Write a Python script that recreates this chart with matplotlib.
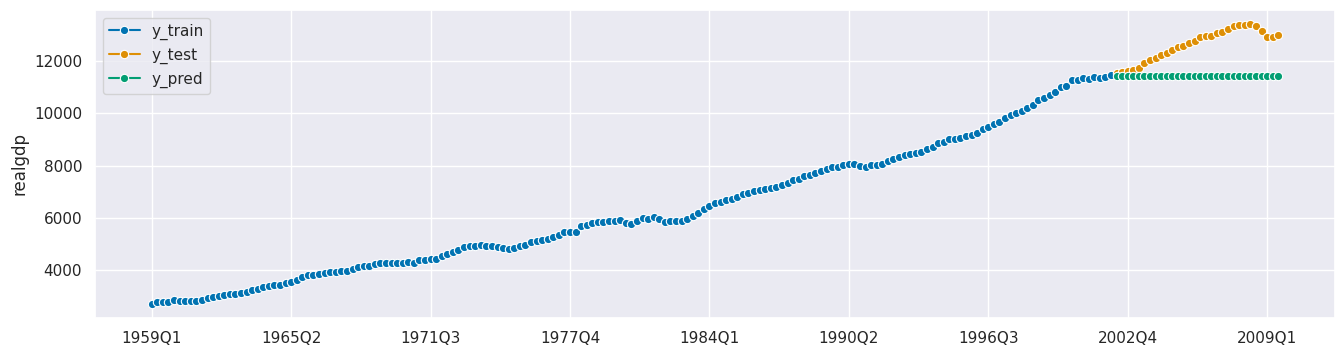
import numpy as np
import pandas as pd
import matplotlib
matplotlib.use("Agg")
import matplotlib.pyplot as plt
import seaborn as sns

# realgdp trimestral, 1959Q1 - 2009Q3
realgdp = [
    2710.349, 2778.801, 2775.488, 2785.204, 2847.699, 2834.390, 2839.022, 2802.616,
    2819.264, 2872.005, 2918.419, 2977.830, 3031.241, 3064.709, 3093.047, 3100.563,
    3141.087, 3180.447, 3240.332, 3264.967, 3338.246, 3376.587, 3422.469, 3431.957,
    3516.251, 3563.960, 3636.285, 3724.014, 3815.423, 3828.124, 3853.301, 3884.520,
    3918.740, 3919.556, 3950.826, 3980.970, 4063.013, 4131.998, 4160.267, 4178.293,
    4244.100, 4256.460, 4283.378, 4263.261, 4256.573, 4264.289, 4302.259, 4256.637,
    4374.016, 4398.829, 4433.943, 4446.264, 4525.769, 4633.101, 4677.503, 4754.546,
    4876.166, 4932.571, 4906.252, 4953.050, 4909.617, 4922.188, 4873.520, 4854.340,
    4795.295, 4831.942, 4913.328, 4977.511, 5090.695, 5128.947, 5154.072, 5191.499,
    5251.762, 5356.131, 5451.921, 5450.793, 5469.405, 5684.569, 5740.300, 5816.222,
    5825.949, 5831.418, 5873.335, 5889.495, 5908.467, 5787.373, 5776.617, 5883.026,
    6005.717, 5957.795, 6030.184, 5955.062, 5857.333, 5889.074, 5866.370, 5871.001,
    5944.020, 6077.619, 6197.468, 6325.574, 6448.264, 6559.594, 6623.343, 6677.264,
    6740.275, 6797.344, 6903.523, 6955.918, 7022.757, 7050.969, 7118.950, 7153.359,
    7193.019, 7269.510, 7332.558, 7458.022, 7496.600, 7592.881, 7632.082, 7733.991,
    7806.603, 7865.016, 7927.393, 7944.697, 8027.693, 8059.598, 8059.476, 7988.864,
    7950.164, 8003.822, 8037.538, 8069.046, 8157.616, 8244.294, 8329.361, 8417.016,
    8432.485, 8486.435, 8531.108, 8643.769, 8727.919, 8847.303, 8904.289, 9003.180,
    9025.267, 9044.668, 9120.684, 9184.275, 9247.188, 9407.052, 9488.879, 9592.458,
    9666.235, 9809.551, 9932.672, 10008.874, 10103.425, 10194.277, 10328.787, 10507.575,
    10601.179, 10684.049, 10819.914, 11014.254, 11043.044, 11258.454, 11267.867, 11334.544,
    11297.171, 11371.251, 11340.075, 11380.128, 11477.868, 11538.770, 11596.430, 11598.824,
    11645.819, 11738.706, 11935.461, 12042.817, 12127.623, 12213.818, 12303.533, 12410.282,
    12534.113, 12587.535, 12683.153, 12748.699, 12915.938, 12962.462, 12965.916, 13060.679,
    13099.901, 13203.977, 13321.109, 13391.249, 13366.865, 13415.266, 13324.600, 13141.920,
    12925.410, 12901.504, 12990.341,
]
periodos = pd.period_range("1959Q1", periods=len(realgdp), freq="Q")
n_test = 30
y_train = realgdp[:-n_test]
y_test = realgdp[-n_test:]
y_pred = [11430.0] * n_test

sns.set_theme(style="darkgrid")
colores = sns.color_palette("colorblind")

x = np.arange(len(realgdp))
x_train = x[:-n_test]
x_test = x[-n_test:]

fig, ax = plt.subplots(figsize=(13.44, 3.56), dpi=100)
kw = dict(marker="o", markersize=6, markeredgecolor="white", markeredgewidth=0.8, lw=1.5)
ax.plot(x_train, y_train, color=colores[0], label="y_train", **kw)
ax.plot(x_test, y_test, color=colores[1], label="y_test", **kw)
ax.plot(x_test, y_pred, color=colores[2], label="y_pred", **kw)

ticks = x[::25]
ax.set_xticks(ticks)
ax.set_xticklabels([str(periodos[i]) for i in ticks])
ax.set_ylabel("realgdp")
ax.legend(loc="upper left")

fig.subplots_adjust(left=0.071, right=0.993, top=0.972, bottom=0.107)
fig.savefig("out.png")
